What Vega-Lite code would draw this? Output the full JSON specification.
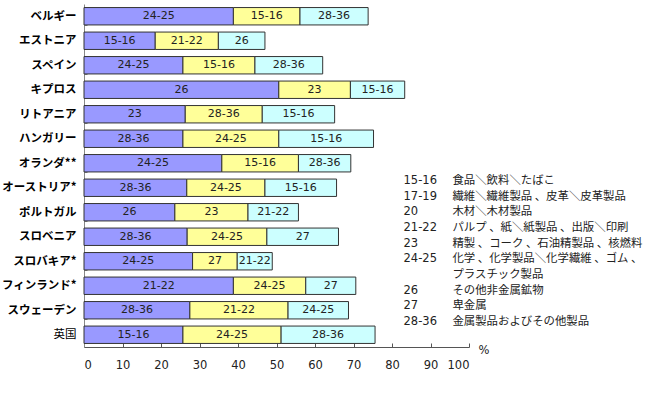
{
  "$schema": "https://vega.github.io/schema/vega-lite/v6.json",
  "autosize": {"type": "none"},
  "padding": {"left": 84, "top": 4, "right": 178, "bottom": 62},
  "width": 385,
  "height": 343,
  "background": "white",
  "config": {
    "view": {"stroke": null}, "font": "DejaVu Sans",
    "axisX": {"labelOverlap": false, "grid": false, "tickSize": -4, "tickColor": "#555555", "domainColor": "#555555",
      "labelFontSize": 11.5, "labelColor": "#222222", "labelPadding": 16, "labelFont": "DejaVu Sans",
      "titleFontWeight": "normal", "titleFontSize": 11.5, "titleColor": "#222222", "titleAlign": "left", "titleAnchor": "start", "titleX": 394, "titleY": 3, "titleBaseline": "middle", "titleFont": "DejaVu Sans"}
  },
  "resolve": {"scale": {"y": "independent"}, "axis": {"y": "independent"}},
  "layer": [
    {
      "data": {"values": [
        {"country": "ベルギー", "seg": 1, "code": "24-25", "value": 38.8},
        {"country": "ベルギー", "seg": 2, "code": "15-16", "value": 17.3},
        {"country": "ベルギー", "seg": 3, "code": "28-36", "value": 17.7},
        {"country": "エストニア", "seg": 1, "code": "15-16", "value": 18.5},
        {"country": "エストニア", "seg": 2, "code": "21-22", "value": 16.4},
        {"country": "エストニア", "seg": 3, "code": "26", "value": 12.1},
        {"country": "スペイン", "seg": 1, "code": "24-25", "value": 25.7},
        {"country": "スペイン", "seg": 2, "code": "15-16", "value": 18.7},
        {"country": "スペイン", "seg": 3, "code": "28-36", "value": 17.6},
        {"country": "キプロス", "seg": 1, "code": "26", "value": 50.6},
        {"country": "キプロス", "seg": 2, "code": "23", "value": 18.6},
        {"country": "キプロス", "seg": 3, "code": "15-16", "value": 14.1},
        {"country": "リトアニア", "seg": 1, "code": "23", "value": 26.3},
        {"country": "リトアニア", "seg": 2, "code": "28-36", "value": 20.0},
        {"country": "リトアニア", "seg": 3, "code": "15-16", "value": 18.8},
        {"country": "ハンガリー", "seg": 1, "code": "28-36", "value": 25.7},
        {"country": "ハンガリー", "seg": 2, "code": "24-25", "value": 24.9},
        {"country": "ハンガリー", "seg": 3, "code": "15-16", "value": 24.6},
        {"country": "オランダ**", "seg": 1, "code": "24-25", "value": 35.8},
        {"country": "オランダ**", "seg": 2, "code": "15-16", "value": 19.9},
        {"country": "オランダ**", "seg": 3, "code": "28-36", "value": 13.6},
        {"country": "オーストリア*", "seg": 1, "code": "28-36", "value": 26.7},
        {"country": "オーストリア*", "seg": 2, "code": "24-25", "value": 20.3},
        {"country": "オーストリア*", "seg": 3, "code": "15-16", "value": 18.6},
        {"country": "ポルトガル", "seg": 1, "code": "26", "value": 23.6},
        {"country": "ポルトガル", "seg": 2, "code": "23", "value": 19.0},
        {"country": "ポルトガル", "seg": 3, "code": "21-22", "value": 13.1},
        {"country": "スロベニア", "seg": 1, "code": "28-36", "value": 26.8},
        {"country": "スロベニア", "seg": 2, "code": "24-25", "value": 20.7},
        {"country": "スロベニア", "seg": 3, "code": "27", "value": 18.6},
        {"country": "スロバキア*", "seg": 1, "code": "24-25", "value": 28.2},
        {"country": "スロバキア*", "seg": 2, "code": "27", "value": 11.6},
        {"country": "スロバキア*", "seg": 3, "code": "21-22", "value": 9.1},
        {"country": "フィンランド*", "seg": 1, "code": "21-22", "value": 38.8},
        {"country": "フィンランド*", "seg": 2, "code": "24-25", "value": 18.8},
        {"country": "フィンランド*", "seg": 3, "code": "27", "value": 13.0},
        {"country": "スウェーデン", "seg": 1, "code": "28-36", "value": 27.5},
        {"country": "スウェーデン", "seg": 2, "code": "21-22", "value": 25.5},
        {"country": "スウェーデン", "seg": 3, "code": "24-25", "value": 15.7},
        {"country": "英国", "seg": 1, "code": "15-16", "value": 25.7},
        {"country": "英国", "seg": 2, "code": "24-25", "value": 25.5},
        {"country": "英国", "seg": 3, "code": "28-36", "value": 24.4}
      ]},
      "transform": [
        {"stack": "value", "groupby": ["country"], "sort": [{"field": "seg", "order": "ascending"}], "as": ["x0", "x1"]},
        {"calculate": "(datum.x0 + datum.x1) / 2", "as": "mid"}
      ],
      "encoding": {
        "y": {
          "field": "country", "type": "nominal", "title": null,
          "sort": ["ベルギー", "エストニア", "スペイン", "キプロス", "リトアニア", "ハンガリー", "オランダ**", "オーストリア*", "ポルトガル", "スロベニア", "スロバキア*", "フィンランド*", "スウェーデン", "英国"],
          "scale": {"paddingInner": 0.29, "paddingOuter": 0.145},
          "axis": {
            "domainColor": "#888888", "tickColor": "#888888", "tickBand": "extent", "tickSize": -3,
            "labelFont": "Noto Sans CJK JP",
            "labelFontWeight": {"condition": {"test": "datum.value === '英国'", "value": "normal"}, "value": "bold"},
            "labelFontSize": 11.5, "labelColor": "#000000",
            "labelPadding": 11
          }
        }
      },
      "layer": [
        {
          "mark": {"type": "bar", "stroke": "#333333", "strokeWidth": 1},
          "encoding": {
            "x": {"field": "x0", "type": "quantitative", "scale": {"domain": [0, 100], "nice": false},
              "axis": {"values": [0, 10, 20, 30, 40, 50, 60, 70, 80, 90, 100], "title": "%"}},
            "x2": {"field": "x1"},
            "color": {"field": "seg", "type": "nominal", "legend": null,
              "scale": {"domain": [1, 2, 3], "range": ["#9999FF", "#FFFF99", "#CCFFFF"]}}
          }
        },
        {
          "mark": {"type": "text", "fontSize": 11, "color": "#222222", "font": "DejaVu Sans", "baseline": "middle"},
          "encoding": {
            "x": {"field": "mid", "type": "quantitative",
              "axis": {"values": [0, 10, 20, 30, 40, 50, 60, 70, 80, 90, 100], "title": "%"}},
            "text": {"field": "code", "type": "nominal"}
          }
        }
      ]
    },
    {
      "data": {"values": [
        {"row": 0, "code": "15-16", "desc": "食品＼飲料＼たばこ"},
        {"row": 1, "code": "17-19", "desc": "繊維＼繊維製品 、皮革＼皮革製品"},
        {"row": 2, "code": "20", "desc": "木材＼木材製品"},
        {"row": 3, "code": "21-22", "desc": "パルプ 、紙＼紙製品 、出版＼印刷"},
        {"row": 4, "code": "23", "desc": "精製 、コーク 、石油精製品 、核燃料"},
        {"row": 5, "code": "24-25", "desc": "化学 、化学製品＼化学繊維 、ゴム 、"},
        {"row": 6, "code": "", "desc": "プラスチック製品"},
        {"row": 7, "code": "26", "desc": "その他非金属鉱物"},
        {"row": 8, "code": "27", "desc": "卑金属"},
        {"row": 9, "code": "28-36", "desc": "金属製品およびその他製品"}
      ]},
      "encoding": {
        "y": {"field": "row", "type": "quantitative", "axis": null,
          "scale": {"domain": [-11.27, 10.58], "reverse": true, "nice": false, "zero": false}}
      },
      "layer": [
        {
          "mark": {"type": "text", "align": "left", "baseline": "middle", "fontSize": 11.5, "font": "DejaVu Sans", "color": "#222222"},
          "encoding": {"x": {"datum": 83.0, "type": "quantitative",
            "axis": {"values": [0, 10, 20, 30, 40, 50, 60, 70, 80, 90, 100], "title": "%"}}, "text": {"field": "code"}}
        },
        {
          "mark": {"type": "text", "align": "left", "baseline": "middle", "fontSize": 11.4, "font": "Noto Sans CJK JP", "color": "#222222"},
          "encoding": {"x": {"datum": 95.7, "type": "quantitative",
            "axis": {"values": [0, 10, 20, 30, 40, 50, 60, 70, 80, 90, 100], "title": "%"}}, "text": {"field": "desc"}}
        }
      ]
    }
  ]
}
